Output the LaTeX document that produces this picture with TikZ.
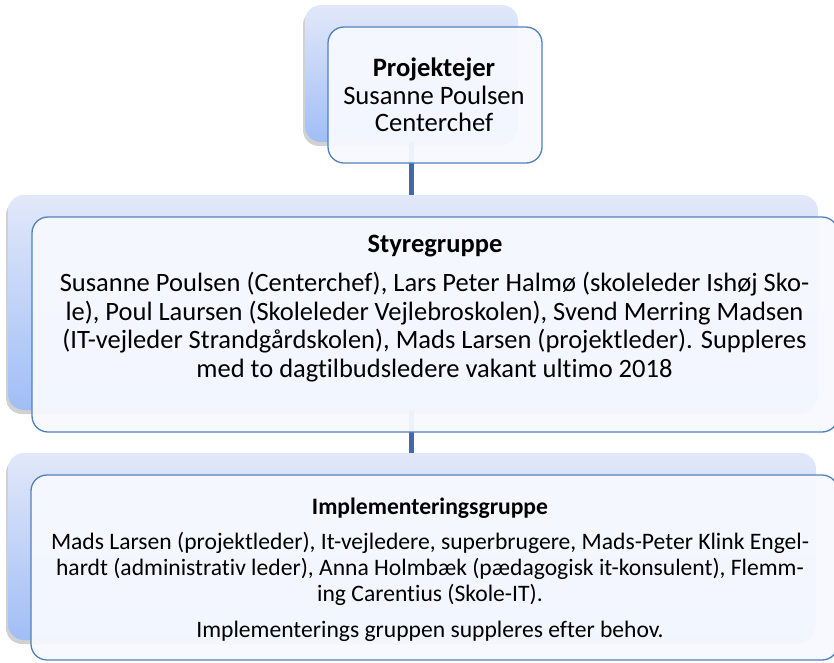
\documentclass[tikz,border=0pt]{standalone}
\usepackage{fontspec}
\setmainfont{Carlito}[Ligatures=NoCommon]
\usetikzlibrary{shadows}
\definecolor{edgeblue}{RGB}{79,129,189}
\definecolor{linkblue}{RGB}{66,106,168}
\definecolor{backtop}{RGB}{226,232,249}
\definecolor{backbot}{RGB}{160,190,246}
\definecolor{frontfill}{RGB}{247,249,255}
\tikzset{
  backbox/.style={rectangle, rounded corners=16pt, inner sep=0pt,
    top color=backtop, bottom color=backbot, draw=none,
    drop shadow={shadow xshift=-2pt, shadow yshift=-4pt, opacity=0.3, fill=black!60}},
  frontbox/.style={rectangle, rounded corners=16pt, inner sep=0pt,
    draw=edgeblue, line width=1.3pt, fill=frontfill, fill opacity=0.95},
  link/.style={draw=linkblue, line width=5pt},
  txt/.style={align=center, inner sep=0pt, text=black}
}
\begin{document}
\begin{tikzpicture}[x=1pt,y=-1pt]
\useasboundingbox (0,0) rectangle (834,662);
% back boxes
\node[backbox, minimum width=213pt, minimum height=137pt] (topback) at (411.5,73.5) {};
\node[backbox, minimum width=810pt, minimum height=215pt] (midback) at (413,302.5) {};
\node[backbox, minimum width=808pt, minimum height=187pt] (botback) at (412,546.5) {};
% connectors
\draw[link] (topback.south) -- (topback.south |- midback.north);
\draw[link] (topback.south |- midback.south) -- (topback.south |- botback.north);
% front boxes
\node[frontbox, minimum width=214pt, minimum height=136pt] (topfront) at (435,95) {};
\node[frontbox, minimum width=806pt, minimum height=215pt] (midfront) at (435,324.5) {};
\node[frontbox, minimum width=807pt, minimum height=185pt] (botfront) at (434.5,567.5) {};
% texts
\node[txt, font={\fontsize{26.6}{27.5}\selectfont}] (toptext) at (434,95)
  {\textbf{Projektejer}\\Susanne Poulsen\\Centerchef};
\node[txt, font={\fontsize{26.5}{28.5}\selectfont\bfseries}] (midtitle) at (435,246) {Styregruppe};
\node[txt, font={\fontsize{26.5}{28.5}\selectfont}] (midbody) at (434.5,327)
  {Susanne Poulsen (Centerchef), Lars Peter Halmø (skoleleder Ishøj Sko-\\
   le), Poul Laursen (Skoleleder Vejlebroskolen), Svend Merring Madsen\\
   (IT-vejleder Strandgårdskolen), Mads Larsen (projektleder). Suppleres\\
   med to dagtilbudsledere vakant ultimo 2018};
\node[txt, font={\fontsize{23.6}{26}\selectfont\bfseries}] (bottitle) at (430,508) {Implementeringsgruppe};
\node[txt, font={\fontsize{23.6}{26}\selectfont}] (botbody) at (430,569)
  {Mads Larsen (projektleder), It-vejledere, superbrugere, Mads-Peter Klink Engel-\\
   hardt (administrativ leder), Anna Holmbæk (pædagogisk it-konsulent), Flemm-\\
   ing Carentius (Skole-IT).};
\node[txt, font={\fontsize{23.6}{26}\selectfont}] (botnote) at (430,631) {Implementerings gruppen suppleres efter behov.};
\end{tikzpicture}
\end{document}
